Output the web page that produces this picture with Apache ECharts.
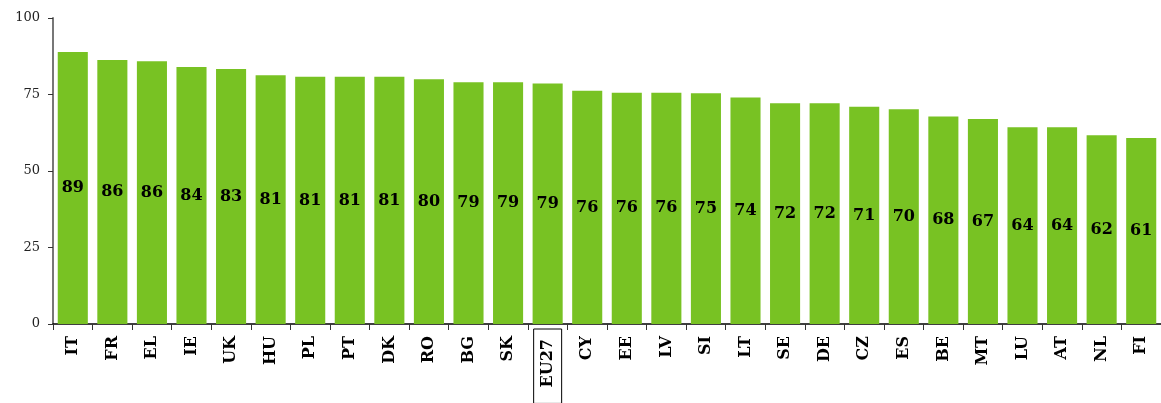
<!DOCTYPE html>
<html>
<head>
<meta charset="utf-8">
<script src="https://cdn.jsdelivr.net/npm/echarts@6/dist/echarts.min.js"></script>
<style>
  html, body { margin: 0; padding: 0; background: #fff; }
  #chart { width: 1161px; height: 403px; }
</style>
</head>
<body>
<div id="chart"></div>
<script>
// countries, sorted by share
const countries = ['IT', 'FR', 'EL', 'IE', 'UK', 'HU', 'PL', 'PT', 'DK', 'RO', 'BG', 'SK', 'EU27',
  'CY', 'EE', 'LV', 'SI', 'LT', 'SE', 'DE', 'CZ', 'ES', 'BE', 'MT', 'LU', 'AT', 'NL', 'FI']
const values = [88.9, 86.3, 85.9, 84.0, 83.3, 81.3, 80.8, 80.8, 80.8, 80.0, 79.0, 79.0, 78.6,
  76.2, 75.6, 75.6, 75.4, 74.0, 72.1, 72.1, 71.0, 70.2, 67.8, 67.0, 64.3, 64.3, 61.7, 60.8]
const yTicks = [0, 25, 50, 75, 100]

const serif = "'DejaVu Serif', 'Liberation Serif', serif"

const chart = echarts.init(document.getElementById('chart'))

const labelFont = {
  fontFamily: serif,
  fontWeight: 'bold',
  fontSize: 16,
  color: '#000'
}

const option = {
  animation: false,
  grid: {
    left: 53,
    right: 0,
    top: 18,
    bottom: 79,
    containLabel: false,
    outerBoundsMode: 'none'
  },
  xAxis: {
    type: 'category',
    data: countries,
    axisLine: { lineStyle: { color: '#000', width: 1.5 } },
    axisTick: { show: true, length: 6, lineStyle: { color: '#333' } },
    axisLabel: {
      rotate: 90,
      interval: 0,
      margin: 5,
      ...labelFont,
      // EU27 gets a framed label, the others are only padded
      formatter: (v) => v === 'EU27' ? '{box|' + v + '}' : '{n|' + v + '}',
      rich: {
        n: { ...labelFont, padding: [0, 7, 0, 0] },
        box: {
          ...labelFont,
          borderColor: '#000',
          borderWidth: 1,
          padding: [6, 10, 6, 16]
        }
      }
    }
  },
  yAxis: {
    type: 'value',
    min: yTicks[0],
    max: yTicks[yTicks.length - 1],
    interval: 25,
    splitLine: { show: false },
    axisLine: { show: true, lineStyle: { color: '#777', width: 2 } },
    axisTick: { show: true, length: 5, lineStyle: { color: '#333' } },
    axisLabel: {
      margin: 13,
      fontFamily: serif,
      fontSize: 13,
      color: '#222'
    }
  },
  series: [{
    type: 'bar',
    data: values,
    barCategoryGap: '24%',
    itemStyle: { color: '#78c223' },
    label: {
      show: true,
      position: 'inside',
      ...labelFont,
      formatter: (p) => Math.round(p.value)
    }
  }]
}

chart.setOption(option)
</script>
</body>
</html>
